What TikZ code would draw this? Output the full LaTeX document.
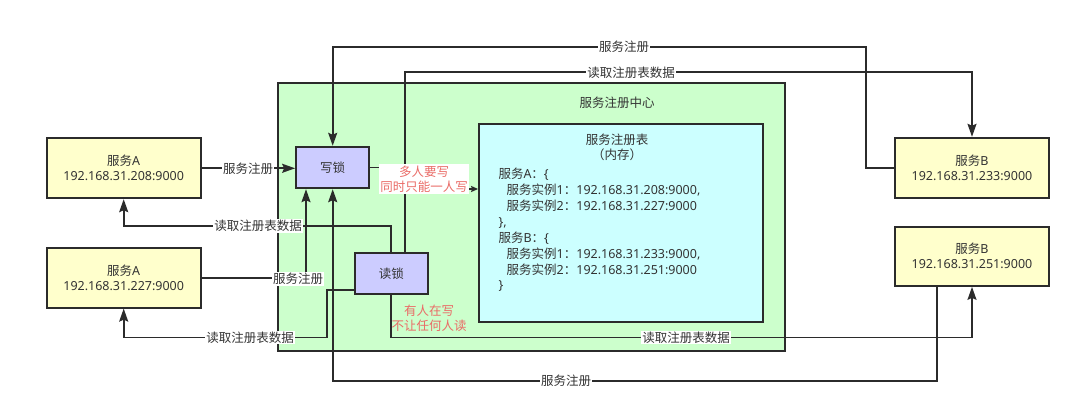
\documentclass[tikz,border=0pt]{standalone}
\usepackage{fontspec}
\setmainfont{Noto Sans}
\newfontfamily\cjk{Noto Sans CJK SC}
\newcommand\zh[1]{{\cjk #1}}
\usetikzlibrary{arrows.meta,calc}
\definecolor{ln}{HTML}{2B2B2B}
\definecolor{txt}{HTML}{333333}
\definecolor{grn}{HTML}{CCFFCC}
\definecolor{cyn}{HTML}{CCFFFF}
\definecolor{yel}{HTML}{FFFFCC}
\definecolor{lav}{HTML}{CCCCFF}
\definecolor{redt}{HTML}{EA6B66}
\tikzset{
  box/.style={draw=ln, line width=1.8pt, inner sep=0pt, align=center, text=txt},
  conn/.style={draw=ln, line width=1.7pt},
  arr/.style={conn, -{Stealth[length=13pt,width=9pt,inset=2pt]}},
  arrs/.style={conn, -{Stealth[length=7pt,width=6pt,inset=1pt]}},
  lbl/.style={fill=white, inner sep=1pt, text=txt},
  codeln/.style={anchor=base west, inner sep=0pt, text=txt},
}
\begin{document}
\begin{tikzpicture}[x=1pt,y=-1pt, font=\fontsize{12.5}{15}\selectfont]
\useasboundingbox[fill=white] (0,0) rectangle (1080,412);

% containers
\node[box, fill=grn, minimum width=506.8pt, minimum height=268.3pt] (G) at (531.4,216.9) {};
\node[text=txt, inner sep=0pt] (Gt) at (617,103) {\zh{服务注册中心}};
\node[box, fill=cyn, minimum width=283.7pt, minimum height=197.4pt] (Cy) at (620.85,223) {};
\node[text=txt, inner sep=0pt] (Ct1) at (617,139.3) {\zh{服务注册表}};
\node[text=txt, inner sep=0pt] (Ct2) at (617,154.8) {\zh{（内存）}};

% code lines
\node[codeln] (k1) at (498.3,178.7) {\zh{服务}A\zh{：}\{};
\node[codeln] (k2) at (506.5,194.6) {\zh{服务实例}1\zh{：}192.168.31.208:9000,};
\node[codeln] (k3) at (506.5,210.5) {\zh{服务实例}2\zh{：}192.168.31.227:9000};
\node[codeln] (k4) at (498.3,226.3) {\},};
\node[codeln] (k5) at (498.3,242.2) {\zh{服务}B\zh{：}\{};
\node[codeln] (k6) at (506.5,258.1) {\zh{服务实例}1\zh{：}192.168.31.233:9000,};
\node[codeln] (k7) at (506.5,274.0) {\zh{服务实例}2\zh{：}192.168.31.251:9000};
\node[codeln] (k8) at (498.3,289.8) {\}};

% service boxes
\node[box, fill=yel, minimum width=154pt, minimum height=60pt] (A1) at (123.7,168.3) {\zh{服务}A\\192.168.31.208:9000};
\node[box, fill=yel, minimum width=154pt, minimum height=59.4pt] (A2) at (123.7,278) {\zh{服务}A\\192.168.31.227:9000};
\node[box, fill=yel, minimum width=154pt, minimum height=60.6pt] (B1) at (972,168) {\zh{服务}B\\192.168.31.233:9000};
\node[box, fill=yel, minimum width=154pt, minimum height=59.3pt] (B2) at (972,256.3) {\zh{服务}B\\192.168.31.251:9000};

% locks
\node[box, fill=lav, minimum width=73.3pt, minimum height=41.6pt] (W) at (332.7,167.5) {\zh{写锁}};
\node[box, fill=lav, minimum width=72.7pt, minimum height=41.3pt] (R) at (391.3,273.3) {\zh{读锁}};

% helper coordinates
\coordinate (c3) at (937,381);
\coordinate (c4) at (866,46.7);
\coordinate (c5) at (258,226);
\coordinate (c6) at (631,72.3);
\coordinate (c7) at (326.7,337.5);
\coordinate (c7l) at (250,337.5);
\coordinate (c8) at (686,337.5);
\coordinate (c9) at (424,189);
\coordinate (c2) at (306,278);

% connectors
\draw[arr] (A1.east) -- (A1.east -| W.west);
\draw[arr] (A2.east) -- (c2) -- (c2 |- W.south);
\draw[arr] (c3 |- B2.south) -- (c3) -| (W.south);
\draw[arr] (B1.west) -| (c4) -| (W.north);
\draw[arr] (R.north) |- (c5) -| (A1.south);
\draw[arr] ([xshift=14pt]R.north) |- (c6) -| (B1.north);
\draw[arr] ([yshift=4.7pt]R.south west) -| (c7) -| (A2.south);
\draw[arr] (R.south) |- (c8) -| (B2.south);
\draw[arrs] (W.east) -| (c9) -- (c9 -| Cy.west);

% labels
\node[lbl] (l1) at (248,168.3) {\zh{服务注册}};
\node[lbl] (l2) at (298,279) {\zh{服务注册}};
\node[lbl] (l3) at (566,381) {\zh{服务注册}};
\node[lbl] (l4) at (624,46.7) {\zh{服务注册}};
\node[lbl] (l5) at (c5) {\zh{读取注册表数据}};
\node[lbl] (l6) at (c6) {\zh{读取注册表数据}};
\node[lbl] (l7) at (c7l) {\zh{读取注册表数据}};
\node[lbl] (l8) at (c8) {\zh{读取注册表数据}};
\node[fill=white, inner sep=1.5pt, text=redt, align=center, font=\fontsize{12.5}{15}\selectfont] (m1) at (424,179) {\zh{多人要写}\\\zh{同时只能一人写}};
\node[inner sep=0pt, text=redt, align=center, font=\fontsize{12.5}{15}\selectfont] (m2) at (429,318) {\zh{有人在写}\\\zh{不让任何人读}};
\end{tikzpicture}
\end{document}
